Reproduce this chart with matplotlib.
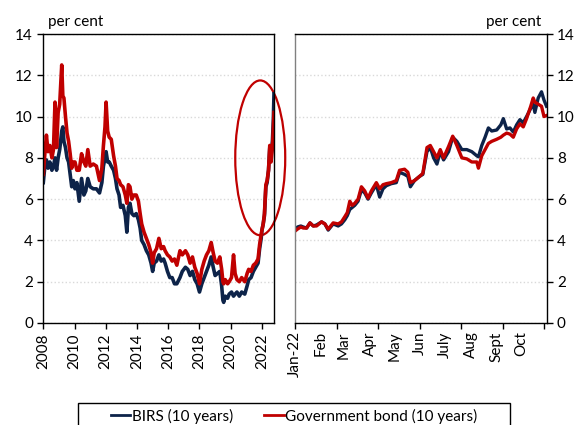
#BIRS vs government bond yields, two panels
import numpy as np
import matplotlib.pyplot as plt
from matplotlib.patches import Ellipse, Rectangle

plt.rcParams['font.family'] = ['Lato', 'DejaVu Sans']

BLUE = '#0d2349'
RED = '#c00000'

#Panel izquierdo: 2008 - 2022 (anio decimal)
yr = [2008.00, 2008.10, 2008.20, 2008.30, 2008.42, 2008.55, 2008.65, 2008.75, 2008.85, 2008.95,
      2009.05, 2009.18, 2009.25, 2009.32, 2009.42, 2009.52, 2009.62, 2009.72, 2009.82, 2009.92,
      2010.03, 2010.15, 2010.30, 2010.45, 2010.60, 2010.72, 2010.85, 2011.00, 2011.20, 2011.40,
      2011.60, 2011.75, 2011.85, 2011.95, 2012.02, 2012.12, 2012.22, 2012.35, 2012.50, 2012.62,
      2012.72, 2012.85, 2012.95, 2013.10, 2013.25, 2013.35, 2013.45, 2013.55, 2013.67, 2013.80,
      2013.95, 2014.09, 2014.20, 2014.30, 2014.45, 2014.60, 2014.75, 2014.90, 2015.00, 2015.10,
      2015.25, 2015.40, 2015.55, 2015.70, 2015.80, 2015.95, 2016.10, 2016.25, 2016.40, 2016.55,
      2016.75, 2016.90, 2017.10, 2017.25, 2017.40, 2017.55, 2017.70, 2017.85, 2018.00, 2018.15,
      2018.30, 2018.45, 2018.60, 2018.75, 2018.88, 2019.00, 2019.15, 2019.30, 2019.42, 2019.50,
      2019.55, 2019.65, 2019.80, 2019.90, 2020.05, 2020.18, 2020.28, 2020.40, 2020.55, 2020.70,
      2020.90, 2021.05, 2021.15, 2021.30, 2021.45, 2021.60, 2021.75, 2021.85, 2021.95, 2022.00,
      2022.08, 2022.16, 2022.25, 2022.33, 2022.42, 2022.50, 2022.58, 2022.67, 2022.73, 2022.77]
birs_long = [6.8, 7.6, 7.9, 7.5, 7.8, 7.4, 7.6, 8.0, 7.4, 8.0,
             8.4, 9.3, 9.5, 8.8, 8.5, 8.0, 7.8, 7.2, 6.6, 6.9,
             6.5, 6.8, 5.9, 7.0, 6.2, 6.4, 7.0, 6.6, 6.5, 6.5,
             6.3, 6.8, 7.6, 8.0, 8.3, 7.8, 7.8, 7.6, 7.4, 7.0,
             6.5, 6.2, 5.6, 5.7, 5.2, 4.4, 5.6, 5.8, 5.3, 5.2,
             5.3, 5.0, 4.6, 4.0, 3.8, 3.5, 3.3, 2.9, 2.5, 2.9,
             3.0, 3.3, 3.0, 3.1, 2.9, 2.5, 2.2, 2.2, 1.9, 1.9,
             2.2, 2.5, 2.7, 2.6, 2.3, 2.5, 2.1, 1.9, 1.5, 1.9,
             2.2, 2.5, 2.8, 3.2, 2.7, 2.3, 2.4, 2.5, 1.8, 1.1,
             1.0, 1.3, 1.2, 1.4, 1.5, 1.3, 1.4, 1.5, 1.3, 1.5,
             1.4, 1.8, 2.1, 2.2, 2.5, 2.7, 2.9, 3.6, 4.1, 4.5,
             4.8, 5.2, 6.6, 6.8, 7.4, 8.5, 8.1, 8.8, 9.9, 11.1]
bond_long = [7.2, 8.2, 9.1, 8.3, 8.6, 8.0, 8.4, 10.7, 8.5, 10.2,
             10.6, 12.5, 11.0, 10.9, 10.0, 9.2, 8.8, 8.2, 7.5, 7.8,
             7.8, 7.4, 7.4, 8.2, 7.8, 7.6, 8.4, 7.6, 7.7, 7.6,
             6.9, 7.5, 8.6, 9.5, 10.7, 9.3, 9.0, 8.9, 8.1, 7.6,
             7.0, 6.9, 6.7, 6.6, 6.2, 5.8, 6.7, 6.6, 6.0, 6.2,
             6.2, 5.9, 5.3, 4.8, 4.4, 4.1, 3.8, 3.4, 2.9, 3.4,
             3.6, 4.1, 3.6, 3.7, 3.5, 3.3, 3.2, 3.0, 3.1, 2.8,
             3.5, 3.3, 3.5, 3.3, 2.9, 3.2, 2.7, 2.4, 1.9, 2.6,
             3.0, 3.3, 3.5, 3.9, 3.4, 3.0, 2.9, 3.2, 2.6, 2.0,
             1.9, 2.1, 1.9, 2.0, 2.2, 3.3, 2.4, 2.1, 2.0, 2.2,
             2.0, 2.4, 2.6, 2.5, 2.8, 2.9, 3.1, 3.8, 4.3, 4.5,
             4.8, 5.3, 6.7, 6.9, 7.4, 8.6, 7.8, 8.5, 9.4, 10.2]
year_ticks = [2008, 2010, 2012, 2014, 2016, 2018, 2020, 2022]

#Panel derecho: 2022, dias desde el 1 de enero
day = [0, 3, 7, 10, 14, 18, 22, 26, 32, 36, 40, 46, 52, 56, 60, 63, 66, 69, 72, 76,
       80, 84, 88, 92, 98, 102, 106, 110, 116, 122, 126, 132, 136, 139, 144, 150, 154, 159, 163, 167,
       171, 175, 179, 185, 190, 195, 201, 207, 213, 219, 221, 225, 229, 233, 237, 243, 248, 251, 255, 259,
       263, 267, 271, 275, 279, 284, 287, 289, 293, 297, 300, 303]
birs_22 = [4.5, 4.65, 4.7, 4.65, 4.6, 4.85, 4.7, 4.75, 4.9, 4.8, 4.5, 4.8, 4.7, 4.8, 5.0, 5.2, 5.5, 5.6, 5.7, 5.9,
           6.45, 6.3, 6.0, 6.3, 6.7, 6.1, 6.5, 6.65, 6.75, 6.8, 7.3, 7.2, 7.1, 6.6, 6.9, 7.1, 7.2, 8.3, 8.5, 8.0,
           7.7, 8.3, 7.9, 8.3, 9.0, 8.8, 8.4, 8.4, 8.3, 8.1, 8.05, 8.6, 9.0, 9.45, 9.3, 9.35, 9.6, 9.9, 9.4, 9.45,
           9.25, 9.6, 9.85, 9.7, 10.0, 10.4, 10.6, 10.2, 10.9, 11.2, 10.8, 10.5]
bond_22 = [4.45, 4.55, 4.65, 4.6, 4.6, 4.85, 4.7, 4.7, 4.9, 4.8, 4.55, 4.85, 4.8, 4.9, 5.15, 5.35, 5.9, 5.7, 5.8, 6.0,
           6.6, 6.4, 6.05, 6.4, 6.8, 6.5, 6.7, 6.75, 6.8, 6.9, 7.4, 7.45, 7.3, 6.8, 6.9, 7.1, 7.25, 8.5, 8.6, 8.3,
           8.0, 8.4, 8.0, 8.55, 9.05, 8.6, 8.0, 7.95, 7.8, 7.8, 7.5, 8.1, 8.4, 8.7, 8.8, 8.9, 9.0, 9.1, 9.2, 9.15,
           9.0, 9.4, 9.65, 9.5, 9.9, 10.5, 10.9, 10.7, 10.6, 10.5, 10.0, 10.05]
month_start = [0, 31, 59, 90, 120, 151, 181, 212, 243, 273]
month_lbl = ['Jan-22', 'Feb', 'Mar', 'Apr', 'May', 'Jun', 'July', 'Aug', 'Sept', 'Oct']

fig = plt.figure(figsize=(5.8, 4.25), dpi=100)
ax1 = fig.add_axes([43.3/580, 102/425, 231/580, 289/425])
ax2 = fig.add_axes([295/580, 102/425, 251.5/580, 289/425])

for ax in (ax1, ax2):
    ax.set_ylim(0, 14)
    ax.set_yticks(np.arange(0, 15, 2))
    ax.grid(axis='y', color='#d9d9d9', linestyle=':', linewidth=1)
    ax.set_axisbelow(True)
    ax.tick_params(labelsize=11, length=4, width=1, colors='#000000')
    for s in ax.spines.values():
        s.set_linewidth(1)

#Izquierda
ax1.plot(yr, birs_long, color=BLUE, lw=2.6)
ax1.plot(yr, bond_long, color=RED, lw=2.6)
ax1.set_xlim(2008, 2022.79)
ax1.set_xticks(year_ticks)
ax1.set_xticklabels([str(y) for y in year_ticks], rotation=90)
ax1.text(0.02, 1.042, 'per cent', transform=ax1.transAxes, fontsize=11, va='center', ha='left')
ell = Ellipse((2021.89, 8.0), 3.2, 7.5, fill=False, edgecolor=RED, lw=1.6, clip_on=False)
ax1.add_patch(ell)

#Derecha
ax2.plot(day, birs_22, color=BLUE, lw=2.4)
ax2.plot(day, bond_22, color=RED, lw=2.4)
ax2.set_xlim(0, 303)
ax2.xaxis.remove_overlapping_locs = False
ax2.set_xticks(np.arange(0, 301, 50))
ax2.set_xticklabels([])
ax2.set_xticks(month_start, minor=True)
ax2.set_xticklabels(month_lbl, minor=True, rotation=90)
ax2.tick_params(axis='x', which='minor', length=0, labelsize=11, pad=6)
ax2.yaxis.tick_right()
ax2.spines['left'].set_color('#808080')
ax2.text(0.978, 1.042, 'per cent', transform=ax2.transAxes, fontsize=11, va='center', ha='right')

#Leyenda
h1, = ax1.plot([], [], color=BLUE, lw=2, label='BIRS (10 years)')
h2, = ax1.plot([], [], color=RED, lw=2, label='Government bond (10 years)')
fig.legend(handles=[h1, h2], loc='center', bbox_to_anchor=(294/580, (425-416)/425), ncol=2,
           frameon=False, fontsize=11, handlelength=1.3, handletextpad=0.1, columnspacing=2.0)
fig.patches.append(Rectangle((78/580, -0.02), 432/580, (0.02 + (425-403)/425), transform=fig.transFigure,
                             fill=False, edgecolor='black', lw=1))

plt.savefig('out.png', dpi=100)
